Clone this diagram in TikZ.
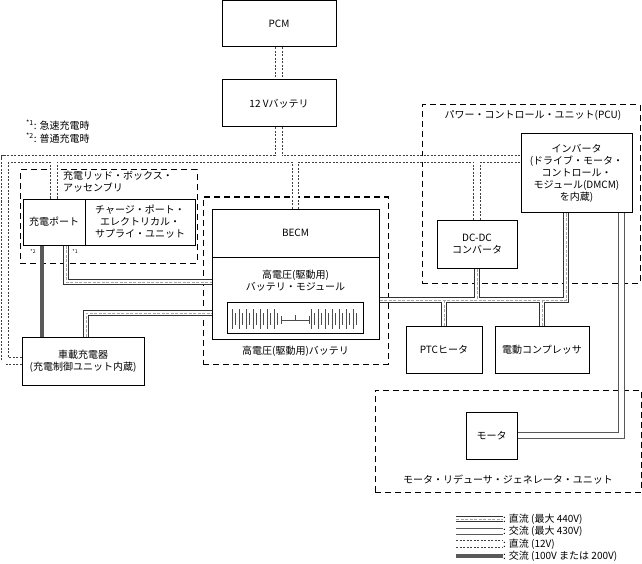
\documentclass[tikz,border=0pt]{standalone}
\usepackage{fontspec}
\setmainfont{Noto Sans CJK JP}
\usetikzlibrary{calc}
\pgfdeclarelayer{bg}
\pgfsetlayers{bg,main}
\newcommand\DCpaths[1]{%
  \draw[#1] ([xshift=12pt]port.south) |- ([yshift=16pt]hvmod.west);
  \draw[#1] ([xshift=3pt]obc.north) |- ([yshift=-15pt]hvmod.west);
  \draw[#1] (hvmod.east |- bus) -- (bus) -- (bus |- inv.south);
  \draw[#1] (dcdc.south) -- (dcdc.south |- bus);
  \draw[#1] (ptc.north) -- (ptc.north |- bus);
  \draw[#1] (comp.north) -- (comp.north |- bus);
  \draw[#1] (lg1) -- (t1.west);
}
\newcommand\ACpaths[1]{%
  \draw[#1] ([xshift=44.5pt]inv.south) |- (motor.east);
  \draw[#1] (lg2) -- (t2.west);
}
\newcommand\LVpaths[1]{%
  \draw[#1] (pcm.south) -- (bat12.north);
  \draw[#1] (bat12.south) -- (j12);
  \draw[#1] (obc.west) -| (lc) -- (j12 -| inv.west);
  \draw[#1] (port.north) -- (port.north |- j12);
  \draw[#1] (becm.north) -- (becm.north |- j12);
  \draw[#1] (dcdc.north) -- (dcdc.north |- j12);
  \draw[#1] (lg3) -- (t3.west);
}
\begin{document}
\begin{tikzpicture}[x=1pt,y=-1pt,
  font=\fontsize{10}{12}\selectfont,
  box/.style={draw, line width=1pt, fill=white, inner sep=0pt, align=center},
  grp/.style={draw, line width=1pt, dash pattern=on 6pt off 4pt, inner sep=0pt},
  lbl/.style={inner sep=0pt, align=center},
  dcA/.style={line width=6pt, draw=black!80},
  dcB/.style={line width=4pt, draw=white},
  dcC/.style={line width=1pt, draw=black!35, dash pattern=on 3pt off 1.5pt},
  acA/.style={line width=7pt, draw=black!65},
  acB/.style={line width=5pt, draw=white},
  lvA/.style={line width=7.6pt, draw=black!75, dash pattern=on 2pt off 1.5pt},
  lvB/.style={line width=5.6pt, draw=white},
  acL/.style={line width=3.2pt, draw=black!65},
  cell/.style={line width=0.7pt, draw=black!70}
]
\useasboundingbox (0,0) rectangle (642,564);

% group frames
\begin{pgfonlayer}{bg}
\node[grp, minimum width=177pt, minimum height=93pt] (glid) at (108.5,216.5) {};
\node[grp, minimum width=185pt, minimum height=167pt] (ghv) at (295.5,280.5) {};
\node[grp, minimum width=218pt, minimum height=178pt] (gpcu) at (531,194) {};
\node[grp, minimum width=266pt, minimum height=102pt] (gmru) at (508,441) {};
\end{pgfonlayer}

% boxes
\node[box, minimum width=114pt, minimum height=46pt] (pcm) at (279,24) {PCM};
\node[box, minimum width=114pt, minimum height=47pt] (bat12) at (279,103.5) {12 Vバッテリ};
\node[box, minimum width=167pt, minimum height=48pt] (becm) at (295.5,233) {BECM};
\node[box, minimum width=167pt, minimum height=82pt] (hvmod) at (295.5,298) {};
\node[lbl] (hvmodt) at (295.5,281) {高電圧(駆動用)\\バッテリ・モジュール};
\node[box, minimum width=136pt, minimum height=31pt] (cells) at (295,317.5) {};
\node[box, minimum width=111pt, minimum height=78pt] (inv) at (576.5,173)
  {インバータ\\(ドライブ・モータ・\\コントロール・\\モジュール(DMCM)\\を内蔵)};
\node[box, minimum width=80pt, minimum height=48pt] (dcdc) at (477,244) {DC-DC\\コンバータ};
\node[box, minimum width=76pt, minimum height=47pt] (ptc) at (444,349.5) {PTCヒータ};
\node[box, minimum width=94pt, minimum height=47pt] (comp) at (542,349.5) {電動コンプレッサ};
\node[box, minimum width=51pt, minimum height=47pt] (motor) at (491.5,435.5) {モータ};
\node[box, minimum width=122pt, minimum height=48pt] (obc) at (83,361) {車載充電器\\(充電制御ユニット内蔵)};
\node[box, minimum width=62pt, minimum height=46pt] (port) at (54,222) {充電ポート};
\node[box, minimum width=110pt, minimum height=46pt] (cpeu) at (140,222) {チャージ・ポート・\\エレクトリカル・\\サプライ・ユニット};

% group labels
\node[lbl, anchor=north west, align=left] (glidt) at (63,170.5) {充電リッド・ボックス・\\アッセンブリ};
\node[lbl] (ghvt) at (295.5,351) {高電圧(駆動用)バッテリ};
\node[lbl] (gpcut) at (533,115) {パワー・コントロール・ユニット(PCU)};
\node[lbl] (gmrut) at (508,480) {モータ・リデューサ・ジェネレータ・ユニット};

% footnotes
\node[lbl, anchor=west] (fn1) at (26,125) {\textsuperscript{*1}: 急速充電時};
\node[lbl, anchor=west] (fn2) at (26,138) {\textsuperscript{*2}: 普通充電時};
\node[lbl, font=\fontsize{5}{6}\selectfont] (s2) at (33,252) {*2};
\node[lbl, font=\fontsize{5}{6}\selectfont] (s1) at (75,252) {*1};

% legend
\node[lbl, anchor=west] (t1) at (503,519) {: 直流 (最大 440V)};
\node[lbl, anchor=west] (t2) at (503,531) {: 交流 (最大 430V)};
\node[lbl, anchor=west] (t3) at (503,544) {: 直流 (12V)};
\node[lbl, anchor=west] (t4) at (503,556) {: 交流 (100V または 200V)};
\coordinate (lg1) at (456,519);
\coordinate (lg2) at (456,531);
\coordinate (lg3) at (456,544);
\coordinate (lg4) at (456,556);

% junction points
\coordinate (bus) at (566,300);
\coordinate (j12) at (279,159);
\coordinate (lc) at (5,159);

% battery cells
\foreach \i in {0,...,13} {
  \pgfmathsetmacro{\xa}{232+3.5*\i}
  \pgfmathsetmacro{\xb}{311+3.5*\i}
  \ifodd\i
    \draw[cell] (\xa,313) -- (\xa,325);
    \draw[cell] (\xb,313) -- (\xb,325);
  \else
    \draw[cell] (\xa,309) -- (\xa,329);
    \draw[cell] (\xb,309) -- (\xb,329);
  \fi
}
\draw[cell] (281,316) -- (281,324);
\draw[cell] (281,320) -- (309,320);
\draw[cell] (309,316) -- (309,324);
\draw[cell] (295,315) -- (295,320);

% connectors
\begin{pgfonlayer}{bg}
\LVpaths{lvA}
\LVpaths{lvB}
\ACpaths{acA}
\ACpaths{acB}
\DCpaths{dcA}
\DCpaths{dcB}
\DCpaths{dcC}
\draw[acL] ([xshift=-12pt]port.south) -- ([xshift=-12pt]port.south |- obc.north);
\draw[acL] (lg4) -- (t4.west);
\end{pgfonlayer}
\end{tikzpicture}
\end{document}
